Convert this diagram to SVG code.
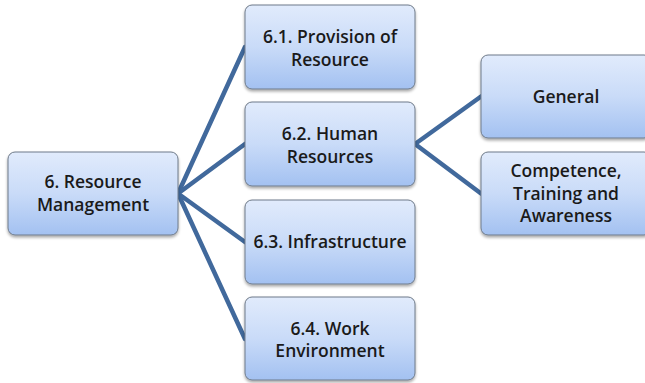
<svg xmlns="http://www.w3.org/2000/svg" width="645" height="383" viewBox="0 0 645 383">
<style>
.box{fill:url(#g);stroke:#6f7b8a;stroke-width:1;filter:url(#sh)}
.t{font-family:"Open Sans","Noto Sans","Liberation Sans",sans-serif;font-size:17.5px;font-weight:600;fill:#1a1a1a;text-anchor:middle}
.c{stroke:#41699c;stroke-width:4.5;fill:none;stroke-linecap:round}
</style>
<defs>
<linearGradient id="g" x1="0" y1="0" x2="0" y2="1">
<stop offset="0" stop-color="#e1ebfc"/>
<stop offset="0.5" stop-color="#c9dbf8"/>
<stop offset="1" stop-color="#a3c1f1"/>
</linearGradient>
<filter id="sh" x="-10%" y="-10%" width="120%" height="130%">
<feGaussianBlur in="SourceAlpha" stdDeviation="1.5"/>
<feOffset dx="0" dy="2" result="b"/>
<feComponentTransfer><feFuncA type="linear" slope="0.35"/></feComponentTransfer>
<feMerge><feMergeNode/><feMergeNode in="SourceGraphic"/></feMerge>
</filter>
</defs>
<g id="connectors">
<path class="c" d="M178 193.5 L245 47"/>
<path class="c" d="M178 193.5 L245 144"/>
<path class="c" d="M178 193.5 L245 242"/>
<path class="c" d="M178 193.5 L245 339"/>
<path class="c" d="M415 144 L481 96.5"/>
<path class="c" d="M415 144 L481 193.5"/>
</g>
<g id="n6">
<rect class="box" x="8" y="152" width="170" height="83" rx="7"/>
<text class="t" x="93" y="188">6. Resource</text>
<text class="t" x="93" y="211">Management</text>
</g>
<g id="n61">
<rect class="box" x="245" y="5" width="170" height="84" rx="7"/>
<text class="t" x="330" y="43">6.1. Provision of</text>
<text class="t" x="330" y="66">Resource</text>
</g>
<g id="n62">
<rect class="box" x="245" y="102" width="170" height="84" rx="7"/>
<text class="t" x="330" y="140">6.2. Human</text>
<text class="t" x="330" y="163">Resources</text>
</g>
<g id="n63">
<rect class="box" x="245" y="200" width="170" height="84" rx="7"/>
<text class="t" x="330" y="248">6.3. Infrastructure</text>
</g>
<g id="n64">
<rect class="box" x="245" y="297" width="170" height="83" rx="7"/>
<text class="t" x="330" y="335">6.4. Work</text>
<text class="t" x="330" y="357">Environment</text>
</g>
<g id="ngen">
<rect class="box" x="481" y="55" width="170" height="83" rx="7"/>
<text class="t" x="566" y="103">General</text>
</g>
<g id="ncomp">
<rect class="box" x="481" y="152" width="170" height="83" rx="7"/>
<text class="t" x="566" y="177">Competence,</text>
<text class="t" x="566" y="199.5">Training and</text>
<text class="t" x="566" y="222">Awareness</text>
</g>
</svg>
